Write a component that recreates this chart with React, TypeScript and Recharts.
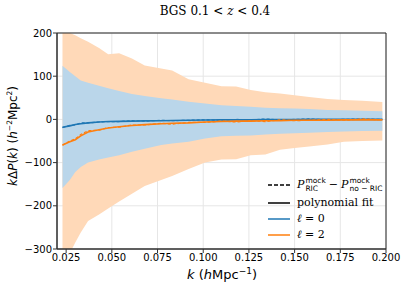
import React from "react";
import {
  Area,
  CartesianGrid,
  ComposedChart,
  Line,
  ReferenceArea,
  XAxis,
  YAxis,
} from "recharts";

// k grid (h/Mpc)
const kVals = [
  0.023, 0.027, 0.03, 0.033, 0.037, 0.043, 0.048, 0.054, 0.061, 0.068, 0.077, 0.083, 0.092,
  0.101, 0.11, 0.118, 0.126, 0.134, 0.142, 0.15, 0.158, 0.168, 0.177, 0.187, 0.198,
];

// l=2 error band
const quadHi = [205, 200, 195, 188, 180, 165, 151, 153, 141, 125, 118, 113, 93, 85, 77, 76, 68, 63, 60, 56, 52, 47, 45, 43, 40];
const quadLo = [-340, -310, -285, -262, -235, -220, -206, -190, -172, -154, -140, -131, -115, -100, -93, -92, -83, -81, -70, -66, -63, -58, -52, -50, -49];

// l=0 error band
const monoHi = [124, 110, 100, 90, 85, 78, 72, 66, 59, 54, 49, 46, 41, 37, 33, 31, 29, 27, 26, 25, 24, 22, 21, 20, 19];
const monoLo = [-159, -140, -122, -110, -100, -93, -88, -83, -75, -68, -59, -56, -52, -44, -39, -38, -37, -35, -33, -32, -31, -29, -28, -27, -26];

// polynomial fits
const fitMono = [-18, -15, -12, -10, -8, -6, -5, -4.5, -4, -3.5, -3, -2.5, -2, -1.5, -1, -1, -1, -0.5, -0.5, -0.5, 0, 0, 0, 0, 0];
const fitQuad = [-59, -52, -47, -38, -29, -24, -20, -17, -14, -12, -10, -9, -8, -6, -5, -4, -4, -3, -3, -2, -2, -2, -1, -1, -1];

// mock differences
const mockMono = [-19, -14, -13, -8, -8, -6, -5, -5, -3, -4, -2, -3, -2, -1, -2, 0, -1, 1, -1, 0, 1, -1, 0, 1, 0];
const mockQuad = [-60, -50, -45, -35, -26, -25, -19, -18, -13, -13, -9, -11, -7, -7, -4, -6, -3, -5, -1, -3, -2, 0, -2, 1, -1];

const xTicks = [0.025, 0.05, 0.075, 0.1, 0.125, 0.15, 0.175, 0.2];
const yTicks = [-300, -200, -100, 0, 100, 200];

const C0 = "#1f77b4";
const C1 = "#ff7f0e";

const data = kVals.map((k, i) => ({
  k,
  quadBand: [quadLo[i], quadHi[i]],
  monoBand: [monoLo[i], monoHi[i]],
  fitMono: fitMono[i],
  fitQuad: fitQuad[i],
  mockMono: mockMono[i],
  mockQuad: mockQuad[i],
}));

const serif = "'DejaVu Serif', serif";
const sans = "'DejaVu Sans', sans-serif";

const Stack = ({ sup, sub }: { sup: string; sub: string }) => (
  <span style={{ display: "inline-flex", flexDirection: "column", fontSize: 7.5, lineHeight: "8.5px", marginLeft: 1, fontStyle: "normal", fontFamily: sans }}>
    <span>{sup}</span>
    <span>{sub}</span>
  </span>
);

const Sample = ({ color, dash }: { color: string; dash?: string }) => (
  <svg width={22} height={8} style={{ marginRight: 7, flex: "none" }}>
    <line x1={0} y1={4} x2={22} y2={4} stroke={color} strokeWidth={1.5} strokeDasharray={dash} />
  </svg>
);

const LegendBox = () => (
  <div style={{ position: "absolute", left: 268, top: 175, fontFamily: serif, fontSize: 11, color: "#000", lineHeight: "14px", whiteSpace: "nowrap" }}>
    <div style={{ display: "flex", alignItems: "center", height: 20 }}>
      <Sample color="#000" dash="4 2" />
      <i>P</i>
      <Stack sup="mock" sub="RIC" />
      <span style={{ margin: "0 3px" }}>−</span>
      <i>P</i>
      <Stack sup="mock" sub="no − RIC" />
    </div>
    <div style={{ display: "flex", alignItems: "center", height: 16 }}>
      <Sample color="#000" />
      <span>polynomial fit</span>
    </div>
    <div style={{ display: "flex", alignItems: "center", height: 16 }}>
      <Sample color={C0} />
      <span><i>ℓ</i> = 0</span>
    </div>
    <div style={{ display: "flex", alignItems: "center", height: 16 }}>
      <Sample color={C1} />
      <span><i>ℓ</i> = 2</span>
    </div>
  </div>
);

const fmt = (v: number) => String(v).replace("-", "−");

export default function App() {
  return (
    <div style={{ position: "absolute", left: 0, top: 0, width: 407, height: 288, background: "#fff" }}>
      <ComposedChart width={407} height={288} data={data} margin={{ top: 33, right: 21, bottom: 0, left: 0 }}>
        <CartesianGrid stroke="#e6e6e6" strokeWidth={1} />
        <XAxis
          dataKey="k"
          type="number"
          domain={[0.02, 0.2]}
          ticks={xTicks}
          allowDataOverflow
          tickFormatter={(v: number) => v.toFixed(3)}
          tick={{ fill: "#000", fontSize: 10, fontFamily: sans }}
          tickSize={4}
          tickMargin={1}
          stroke="#333"
          height={39}
          label={{
            content: () => (
              <text x={222} y={279} textAnchor="middle" fontFamily={sans} fontSize={13} fill="#000">
                <tspan fontStyle="italic">k</tspan>
                <tspan> (</tspan>
                <tspan fontStyle="italic">h</tspan>
                <tspan>Mpc</tspan>
                <tspan fontSize={9} dy={-5}>−1</tspan>
                <tspan dy={5}>)</tspan>
              </text>
            ),
          }}
        />
        <YAxis
          type="number"
          domain={[-300, 200]}
          ticks={yTicks}
          allowDataOverflow
          tickFormatter={fmt}
          tick={{ fill: "#000", fontSize: 10, fontFamily: sans }}
          tickSize={4}
          tickMargin={1}
          stroke="#333"
          width={57}
          label={{
            content: () => (
              <text x={17} y={136} transform="rotate(-90 17 136)" textAnchor="middle" fontFamily={sans} fontSize={12} fill="#000">
                <tspan fontStyle="italic">k</tspan>
                <tspan>Δ</tspan>
                <tspan fontStyle="italic">P</tspan>
                <tspan>(</tspan>
                <tspan fontStyle="italic">k</tspan>
                <tspan>) (</tspan>
                <tspan fontStyle="italic">h</tspan>
                <tspan fontSize={7.5} dy={-5}>−2</tspan>
                <tspan dy={5}>Mpc</tspan>
                <tspan fontSize={7.5} dy={-5}>2</tspan>
                <tspan dy={5}>)</tspan>
              </text>
            ),
          }}
        />
        <Area dataKey="quadBand" type="linear" stroke="none" fill="#ffd9b8" fillOpacity={1} isAnimationActive={false} />
        <Area dataKey="monoBand" type="linear" stroke="none" fill="#bad6ea" fillOpacity={1} isAnimationActive={false} />
        <Line dataKey="fitMono" type="linear" stroke={C0} strokeWidth={1.6} dot={false} isAnimationActive={false} />
        <Line dataKey="mockMono" type="linear" stroke={C0} strokeWidth={1.2} strokeDasharray="3 2" dot={false} isAnimationActive={false} />
        <Line dataKey="fitQuad" type="linear" stroke={C1} strokeWidth={1.6} dot={false} isAnimationActive={false} />
        <Line dataKey="mockQuad" type="linear" stroke={C1} strokeWidth={1.2} strokeDasharray="3 2" dot={false} isAnimationActive={false} />
        <ReferenceArea x1={0.02} x2={0.2} y1={-300} y2={200} fill="none" stroke="#222" strokeWidth={1} ifOverflow="visible" />
      </ComposedChart>
      <div style={{ position: "absolute", left: 0, width: 430, top: 4, textAlign: "center", fontFamily: serif, fontSize: 12, color: "#000" }}>
        BGS 0.1 &lt; <i>z</i> &lt; 0.4
      </div>
      <LegendBox />
    </div>
  );
}
